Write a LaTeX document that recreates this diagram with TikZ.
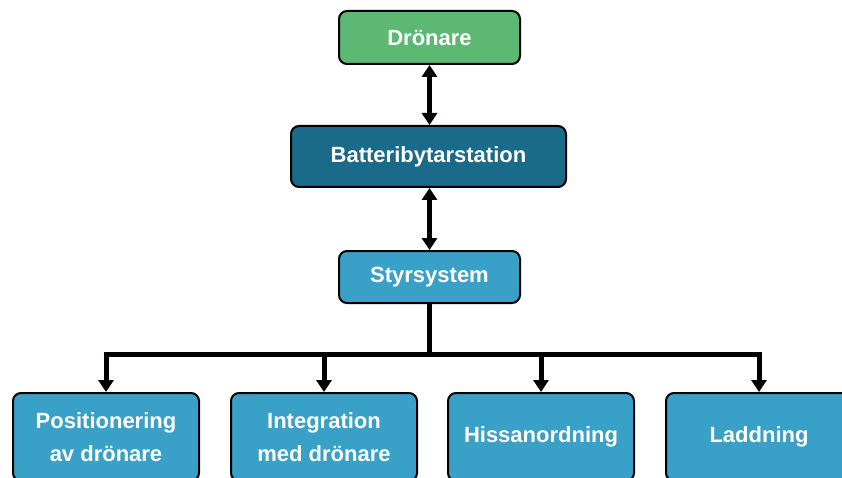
\documentclass[tikz,border=0pt]{standalone}
\usepackage{fontspec}
\setmainfont{Liberation Sans}
\usepackage{tikz}
\usetikzlibrary{arrows.meta}
\definecolor{dronegreen}{RGB}{93,184,115}
\definecolor{battblue}{RGB}{26,106,138}
\definecolor{styrblue}{RGB}{57,161,199}

\begin{document}
\begin{tikzpicture}[x=1pt,y=1pt,
  box/.style={draw=black,line width=2pt,rounded corners=8pt,text=white,
    font=\fontsize{22}{33}\selectfont\bfseries,align=center,inner sep=0pt},
  link/.style={line width=5pt},
  pil/.style={line width=5pt,-{Triangle[width=15pt,length=12pt]}},
  dubbelpil/.style={line width=5pt,{Triangle[width=15pt,length=12pt]}-{Triangle[width=15pt,length=12pt]}}]
\useasboundingbox (0,0) rectangle (842,477);
\clip (0,0) rectangle (842,477);
\node[box,fill=dronegreen,minimum width=181pt,minimum height=53pt] (dron) at (429.5,439.5) {Drönare};
\node[box,fill=battblue,minimum width=275pt,minimum height=61pt] (batt) at (428.5,320.5) {Batteribytarstation};
\node[box,fill=styrblue,minimum width=181pt,minimum height=52pt] (styr) at (429.5,200) {Styrsystem};
\node[box,fill=styrblue,minimum width=186pt,minimum height=88pt] (pos) at (106,40) {Positionering\\av drönare};
\node[box,fill=styrblue,minimum width=186pt,minimum height=88pt] (integ) at (324,40) {Integration\\med drönare};
\node[box,fill=styrblue,minimum width=186pt,minimum height=88pt] (hiss) at (541,40) {Hissanordning};
\node[box,fill=styrblue,minimum width=186pt,minimum height=88pt] (ladd) at (759,40) {Laddning};
\coordinate (bus) at (429.5,123);
% pilar
\draw[dubbelpil] (dron.south) -- (dron.south |- batt.north);
\draw[dubbelpil] (styr.north |- batt.south) -- (styr.north);
\draw[link] (styr) -- (bus);
\draw[link] ([xshift=-2.5pt]pos.north |- bus) -- ([xshift=2.5pt]ladd.north |- bus);
\draw[pil] (pos.north |- bus) -- (pos.north);
\draw[pil] (integ.north |- bus) -- (integ.north);
\draw[pil] (hiss.north |- bus) -- (hiss.north);
\draw[pil] (ladd.north |- bus) -- (ladd.north);
\end{tikzpicture}
\end{document}
